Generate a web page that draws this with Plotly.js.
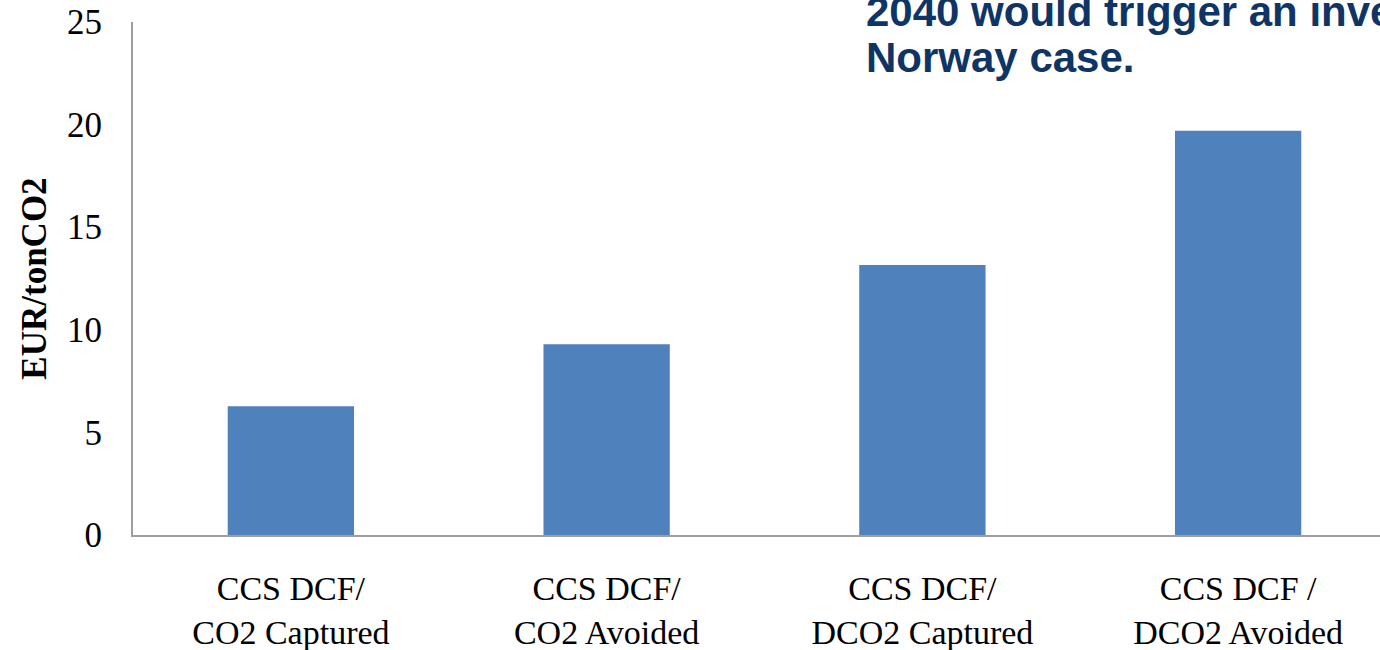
<!DOCTYPE html>
<html>
<head>
<meta charset="utf-8">
<script src="https://cdn.plot.ly/plotly-3.0.1.min.js"></script>
<style>
  html, body { margin: 0; padding: 0; background: #ffffff; overflow: hidden; }
  #chart { width: 1420px; height: 650px; }
</style>
</head>
<body>
<div id="chart"></div>
<script>
// Cost of CCS per tonne of CO2, four measures
const categories = [
  "CCS DCF/<br>CO2 Captured",
  "CCS DCF/<br>CO2 Avoided",
  "CCS DCF/<br>DCO2 Captured",
  "CCS DCF /<br>DCO2 Avoided"
];
const costValues = [6.27, 9.30, 13.16, 19.70];
const yTickValues = [0, 5, 10, 15, 20, 25];
const yAxisLabel = "EUR/tonCO2";
const headlineLines = ["2040 would trigger an investment", "Norway case."];

const W = 1420, H = 650;
const margin = { l: 133, r: 24, t: 22, b: 115 };
const plotH = H - margin.t - margin.b;
const plotW = W - margin.l - margin.r;

// convert a pixel position on the page into paper coordinates
const px2x = px => (px - margin.l) / plotW;
const px2y = py => (H - margin.b - py) / plotH;

const trace = {
  type: "bar",
  x: categories,
  y: costValues,
  marker: { color: "#4F81BD", line: { width: 0 } },
  hoverinfo: "x+y"
};

const headlineFont = { family: "Liberation Sans, Arial, sans-serif", size: 42, color: "#0F3567", weight: 700 };

const layout = {
  width: W,
  height: H,
  margin: margin,
  paper_bgcolor: "#ffffff",
  plot_bgcolor: "#ffffff",
  showlegend: false,
  bargap: 0.6,
  font: { family: "Liberation Serif, Times New Roman, serif", color: "#000000" },
  xaxis: {
    type: "category",
    showline: true,
    linecolor: "#9E9E9E",
    linewidth: 2,
    ticks: "",
    showgrid: false,
    zeroline: false,
    tickfont: { family: "Liberation Serif, Times New Roman, serif", size: 34, color: "#000000" },
    ticklabelstandoff: 22,
    automargin: false
  },
  yaxis: {
    range: [0, 25],
    tickvals: yTickValues,
    ticktext: yTickValues.map(String),
    showline: true,
    linecolor: "#9E9E9E",
    linewidth: 2,
    ticks: "",
    showgrid: false,
    zeroline: false,
    tickfont: { family: "Liberation Serif, Times New Roman, serif", size: 35, color: "#000000" },
    ticklabelstandoff: 22,
    automargin: false,
    title: {
      text: yAxisLabel,
      font: { family: "Liberation Serif, Times New Roman, serif", size: 35, color: "#000000", weight: 700 },
      standoff: 10
    }
  },
  annotations: [
    {
      xref: "paper", yref: "paper",
      x: px2x(864), y: px2y(11),
      xanchor: "left", yanchor: "middle",
      text: "<b>" + headlineLines[0] + "</b>",
      showarrow: false,
      align: "left",
      font: headlineFont
    },
    {
      xref: "paper", yref: "paper",
      x: px2x(864), y: px2y(57.5),
      xanchor: "left", yanchor: "middle",
      text: "<b>" + headlineLines[1] + "</b>",
      showarrow: false,
      align: "left",
      font: headlineFont
    }
  ]
};

Plotly.newPlot("chart", [trace], layout, { displayModeBar: false, staticPlot: true });
</script>
</body>
</html>
